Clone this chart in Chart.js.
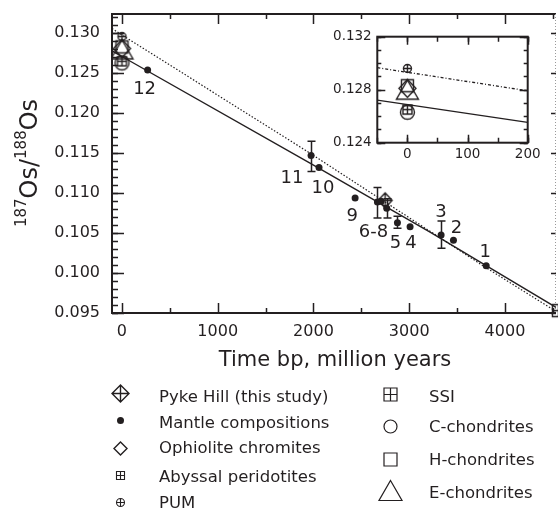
<!DOCTYPE html>
<html>
<head>
<meta charset="utf-8">
<script src="https://cdn.jsdelivr.net/npm/chart.js@4/dist/chart.umd.min.js"></script>
<style>
  body { margin: 0; background: #fff; }
  #wrap { position: relative; width: 558px; height: 510px; overflow: hidden; }
  #main { position: absolute; left: 0; top: 0; }
  #inset { position: absolute; left: 330px; top: 20px; }
</style>
</head>
<body>
<div id="wrap">
  <canvas id="main" width="558" height="510"></canvas>
  <canvas id="inset" width="215" height="145"></canvas>
</div>
<script>
// mantle compositions, numbered as in the figure (Ma, 187Os/188Os)
const mantleLabels = ['1', '2', '3', '4', '5', '6-8', '', '', '9', '10', '11', '12'];
const mantleAge = [3804, 3462, 3333, 3009, 2877, 2668, 2706, 2765, 2435, 2058, 1975, 268];
const mantleOs = [0.1009, 0.1041, 0.10475, 0.1058, 0.1063, 0.1089, 0.1090, 0.1081, 0.1094, 0.1132, 0.1147, 0.1254];
const mantleErrLow = [null, null, 0.1031, null, 0.1056, 0.1069, null, 0.1069, null, null, 0.1127, null];
const mantleErrHigh = [null, null, 0.1065, null, 0.1071, 0.1107, null, 0.1093, null, null, 0.1165, null];
// where each number sits relative to its point (px)
const labelOffsets = [[-1, -15], [3, -14], [0, -25], [1, 15], [-2, 19], [-4, 29], [0, 0], [0, 0], [-3, 17], [4, 19], [-19, 21], [-3, 17]];

// Pyke Hill and SSI
const pykeAge = [2748];
const pykeOs = [0.1091];
const ssiAge = [4558];
const ssiOs = [0.0953];

// present day reservoirs, plotted at t = 0
const pumOs = [0.1296];
const hChondOs = [0.1283];
const ophioliteOs = [0.1281];
const eChondOs = [0.1280];
const abyssalOs = [0.1265];
const cChondOs = [0.1263];

// evolution lines, main panel
const solidAge = [-104, 0, 1964, 3218, 4533];
const solidOs = [0.1278, 0.1271, 0.11375, 0.10512, 0.0957];
const dottedAge = [-104, 0, 1964, 3811, 4533];
const dottedOs = [0.1306, 0.1298, 0.1150, 0.1006, 0.0952];

// evolution lines, inset
const insetSolidAge = [-50, 200];
const insetSolidOs = [0.12722, 0.12554];
const insetDottedAge = [-50, 200];
const insetDottedOs = [0.12966, 0.12792];

// ticks
const ageTicks = [0, 1000, 2000, 3000, 4000];
const osTicks = [0.095, 0.100, 0.105, 0.110, 0.115, 0.120, 0.125, 0.130];
const insetAgeTicks = [0, 100, 200];
const insetOsTicks = [0.124, 0.128, 0.132];

const legendLeft = ['Pyke Hill (this study)', 'Mantle compositions', 'Ophiolite chromites', 'Abyssal peridotites', 'PUM'];
const legendRight = ['SSI', 'C-chondrites', 'H-chondrites', 'E-chondrites'];

const ink = '#231f20';
const FONT = '"DejaVu Sans", sans-serif';

function pts(xs, ys) {
  return xs.map((x, i) => ({ x: x, y: ys[i] }));
}

// little canvases used as point styles (odd sizes so the centre sits on a half pixel)
function marker(kind, w, h, lw) {
  h = h || w;
  lw = lw || 1.4;
  const c = document.createElement('canvas');
  c.width = 2 * Math.ceil((w + 4) / 2) + 1;
  c.height = 2 * Math.ceil((h + 4) / 2) + 1;
  const g = c.getContext('2d');
  g.strokeStyle = ink;
  g.fillStyle = ink;
  g.lineWidth = lw;
  const cx = c.width / 2, cy = c.height / 2, rx = w / 2, ry = h / 2;
  g.beginPath();
  if (kind === 'diamond' || kind === 'diamondCross') {
    g.moveTo(cx, cy - ry); g.lineTo(cx + rx, cy); g.lineTo(cx, cy + ry); g.lineTo(cx - rx, cy); g.closePath();
  }
  if (kind === 'square' || kind === 'squarePlus') g.rect(cx - rx, cy - ry, w, h);
  if (kind === 'circle' || kind === 'circlePlus' || kind === 'dot') g.arc(cx, cy, rx, 0, Math.PI * 2);
  if (kind === 'triangle') {
    g.moveTo(cx, cy - ry); g.lineTo(cx + rx, cy + ry); g.lineTo(cx - rx, cy + ry); g.closePath();
  }
  if (kind === 'dot') { g.fill(); return c; }
  if (kind === 'diamondCross' || kind === 'squarePlus' || kind === 'circlePlus') {
    g.moveTo(cx, cy - ry); g.lineTo(cx, cy + ry);
    g.moveTo(cx - rx, cy); g.lineTo(cx + rx, cy);
  }
  g.stroke();
  return c;
}

const mk = {
  pyke: marker('diamondCross', 14, 15),
  pum: marker('circlePlus', 8),
  hChond: marker('square', 12),
  ophiolite: marker('diamond', 17, 18),
  eChond: marker('triangle', 22, 19),
  abyssal: marker('squarePlus', 9),
  cChond: marker('circle', 14),
  ssi: marker('squarePlus', 12)
};

function range(from, to, step, scale) {
  const out = [];
  for (let k = from; k <= to; k += step) out.push(k / scale);
  return out;
}

function tickMarks(ctx, scale, values, side, len, a) {
  ctx.beginPath();
  values.forEach(v => {
    const p = Math.round(scale.getPixelForValue(v)) + 0.5;
    if (side === 'bottom') { ctx.moveTo(p, a.bottom); ctx.lineTo(p, a.bottom - len); }
    if (side === 'top') { ctx.moveTo(p, a.top); ctx.lineTo(p, a.top + len); }
    if (side === 'left') { ctx.moveTo(a.left, p); ctx.lineTo(a.left + len, p); }
    if (side === 'right') { ctx.moveTo(a.right, p); ctx.lineTo(a.right - len, p); }
  });
  ctx.stroke();
}

// keep the plot box where the layout padding puts it
function fixBox(size, key) {
  return s => {
    s[key] = size;
    s.paddingLeft = 0; s.paddingRight = 0; s.paddingTop = 0; s.paddingBottom = 0;
  };
}

function reservoirSet(ys, img) {
  return { data: pts([0], ys), pointStyle: img, pointRadius: 6, showLine: false };
}

const mainDecor = {
  id: 'mainDecor',
  afterDatasetsDraw(chart) {
    const { ctx, scales } = chart;
    const sx = scales.x, sy = scales.y;
    ctx.save();
    // error bars
    ctx.strokeStyle = ink;
    ctx.lineWidth = 1.5;
    mantleAge.forEach((t, i) => {
      if (mantleErrLow[i] === null) return;
      const px = Math.round(sx.getPixelForValue(t)) + 0.5;
      const y1 = sy.getPixelForValue(mantleErrLow[i]);
      const y2 = sy.getPixelForValue(mantleErrHigh[i]);
      ctx.beginPath();
      ctx.moveTo(px, y1); ctx.lineTo(px, y2);
      ctx.moveTo(px - 4, y1); ctx.lineTo(px + 4, y1);
      ctx.moveTo(px - 4, y2); ctx.lineTo(px + 4, y2);
      ctx.stroke();
    });
    // point numbers
    ctx.fillStyle = ink;
    ctx.font = '18px ' + FONT;
    ctx.textAlign = 'center';
    ctx.textBaseline = 'alphabetic';
    mantleAge.forEach((t, i) => {
      if (!mantleLabels[i]) return;
      const px = sx.getPixelForValue(t) + labelOffsets[i][0];
      const py = sy.getPixelForValue(mantleOs[i]) + labelOffsets[i][1];
      ctx.fillText(mantleLabels[i], px, py + 6.5);
    });
    ctx.restore();
  },
  afterDraw(chart) {
    const { ctx, chartArea: a, scales } = chart;
    const sx = scales.x, sy = scales.y;
    ctx.save();
    ctx.strokeStyle = ink;
    ctx.lineWidth = 1.5;
    tickMarks(ctx, sx, ageTicks, 'bottom', 10, a);
    tickMarks(ctx, sx, ageTicks, 'top', 10, a);
    tickMarks(ctx, sx, range(500, 4500, 1000, 1), 'bottom', 5, a);
    tickMarks(ctx, sx, range(500, 4500, 1000, 1), 'top', 5, a);
    tickMarks(ctx, sy, osTicks, 'left', 12, a);
    tickMarks(ctx, sy, range(95, 132, 1, 1000), 'left', 6, a);
    tickMarks(ctx, sy, osTicks, 'right', 5, a);
    // frame: left, top, bottom solid, right edge faint
    ctx.lineWidth = 2;
    ctx.beginPath();
    ctx.moveTo(a.left, a.top); ctx.lineTo(a.right, a.top);
    ctx.moveTo(a.left, a.top - 1); ctx.lineTo(a.left, a.bottom + 1);
    ctx.moveTo(a.left, a.bottom); ctx.lineTo(a.right, a.bottom);
    ctx.stroke();
    ctx.strokeStyle = '#999';
    ctx.lineWidth = 1;
    ctx.setLineDash([1, 2]);
    ctx.beginPath();
    ctx.moveTo(a.right - 0.5, a.top); ctx.lineTo(a.right - 0.5, a.bottom);
    ctx.stroke();
    ctx.setLineDash([]);

    // axis titles
    ctx.fillStyle = ink;
    ctx.textAlign = 'center';
    ctx.textBaseline = 'alphabetic';
    ctx.font = '21px ' + FONT;
    ctx.fillText('Time bp, million years', 335, 366);

    const parts = [['187', 15, -11], ['Os/', 24, 0], ['188', 15, -11], ['Os', 24, 0]];
    let total = 0;
    parts.forEach(p => { ctx.font = p[1] + 'px ' + FONT; total += ctx.measureText(p[0]).width; });
    ctx.translate(37, 163);
    ctx.rotate(-Math.PI / 2);
    ctx.textAlign = 'left';
    let x = -total / 2;
    parts.forEach(p => {
      ctx.font = p[1] + 'px ' + FONT;
      ctx.fillText(p[0], x, p[2]);
      x += ctx.measureText(p[0]).width;
    });
    ctx.setTransform(1, 0, 0, 1, 0, 0);

    // legend, two columns
    const leftIcons = [
      [marker('diamondCross', 17, 17), 393.3],
      [marker('dot', 7), 420.7],
      [marker('diamond', 13, 13), 448.3],
      [marker('squarePlus', 8, 8, 1.1), 475.7],
      [marker('circlePlus', 8, 8, 1.1), 502.7]
    ];
    const leftBase = [401.7, 427.7, 452.7, 481.7, 508.4];
    const rightIcons = [
      [marker('squarePlus', 13, 13, 1.2), 394],
      [marker('circle', 13, 13, 1.2), 426.7],
      [marker('square', 13, 13, 1.2), 459.3],
      [marker('triangle', 23, 20, 1.2), 490.3]
    ];
    const rightBase = [401.7, 431.7, 465, 497.7];
    ctx.font = '16.5px ' + FONT;
    ctx.textAlign = 'left';
    legendLeft.forEach((name, i) => {
      const img = leftIcons[i][0];
      ctx.drawImage(img, Math.round(120 - img.width / 2), Math.round(leftIcons[i][1] - img.height / 2));
      ctx.fillText(name, 159, leftBase[i]);
    });
    legendRight.forEach((name, i) => {
      const img = rightIcons[i][0];
      ctx.drawImage(img, Math.round(390 - img.width / 2), Math.round(rightIcons[i][1] - img.height / 2));
      ctx.fillText(name, 429, rightBase[i]);
    });
    ctx.restore();
  }
};

new Chart(document.getElementById('main'), {
  type: 'scatter',
  data: {
    datasets: [
      { data: pts(solidAge, solidOs), showLine: true, borderColor: ink, borderWidth: 1.4, pointRadius: 0, tension: 0 },
      { data: pts(dottedAge, dottedOs), showLine: true, borderColor: ink, borderWidth: 1.2, borderDash: [1.5, 1.8], pointRadius: 0, tension: 0 },
      { data: pts(mantleAge, mantleOs), pointStyle: 'circle', pointRadius: 3.5, backgroundColor: ink, borderColor: ink, borderWidth: 0 },
      { data: pts(pykeAge, pykeOs), pointStyle: mk.pyke, pointRadius: 7 },
      reservoirSet(cChondOs, mk.cChond),
      reservoirSet(abyssalOs, mk.abyssal),
      reservoirSet(eChondOs, mk.eChond),
      reservoirSet(ophioliteOs, mk.ophiolite),
      reservoirSet(hChondOs, mk.hChond),
      reservoirSet(pumOs, mk.pum),
      { data: pts(ssiAge, ssiOs), pointStyle: mk.ssi, pointRadius: 6, clip: false }
    ]
  },
  options: {
    responsive: false,
    animation: false,
    layout: { autoPadding: false, padding: { left: 0, top: 14, right: 2, bottom: 157 } },
    plugins: { legend: { display: false }, tooltip: { enabled: false } },
    scales: {
      x: {
        type: 'linear', min: -104, max: 4533,
        grid: { display: false, drawTicks: false }, border: { display: false },
        ticks: { font: { family: FONT, size: 16 }, color: ink, padding: 9, maxRotation: 0, callback: v => String(v) },
        afterBuildTicks: s => { s.ticks = ageTicks.map(v => ({ value: v })); },
        afterFit: fixBox(40, 'height')
      },
      y: {
        type: 'linear', min: 0.095, max: 0.13242,
        grid: { display: false, drawTicks: false }, border: { display: false },
        ticks: { font: { family: FONT, size: 16 }, color: ink, padding: 12, callback: v => v.toFixed(3) },
        afterBuildTicks: s => { s.ticks = osTicks.map(v => ({ value: v })); },
        afterFit: fixBox(112, 'width')
      }
    }
  },
  plugins: [mainDecor]
});

const insetDecor = {
  id: 'insetDecor',
  beforeDatasetsDraw(chart) {
    const { ctx, chartArea: a } = chart;
    ctx.save();
    ctx.fillStyle = '#fff';
    ctx.fillRect(a.left, a.top, a.right - a.left, a.bottom - a.top);
    ctx.restore();
  },
  afterDraw(chart) {
    const { ctx, chartArea: a, scales } = chart;
    ctx.save();
    ctx.strokeStyle = ink;
    ctx.lineWidth = 1.5;
    const xs = range(-50, 200, 50, 1);
    tickMarks(ctx, scales.x, insetAgeTicks, 'bottom', 8, a);
    tickMarks(ctx, scales.x, insetAgeTicks, 'top', 8, a);
    tickMarks(ctx, scales.x, xs, 'bottom', 5, a);
    tickMarks(ctx, scales.x, xs, 'top', 5, a);
    tickMarks(ctx, scales.y, insetOsTicks, 'left', 8, a);
    tickMarks(ctx, scales.y, insetOsTicks, 'right', 8, a);
    tickMarks(ctx, scales.y, range(124, 132, 1, 1000), 'left', 4, a);
    tickMarks(ctx, scales.y, range(124, 132, 1, 1000), 'right', 4, a);
    ctx.lineWidth = 2;
    ctx.strokeRect(a.left, a.top, a.right - a.left, a.bottom - a.top);
    ctx.restore();
  }
};

new Chart(document.getElementById('inset'), {
  type: 'scatter',
  data: {
    datasets: [
      { data: pts(insetSolidAge, insetSolidOs), showLine: true, borderColor: ink, borderWidth: 1.3, pointRadius: 0 },
      { data: pts(insetDottedAge, insetDottedOs), showLine: true, borderColor: ink, borderWidth: 1.3, borderDash: [3, 2, 1, 2], pointRadius: 0 },
      reservoirSet(cChondOs, mk.cChond),
      reservoirSet(abyssalOs, mk.abyssal),
      reservoirSet(eChondOs, mk.eChond),
      reservoirSet(ophioliteOs, mk.ophiolite),
      reservoirSet(hChondOs, mk.hChond),
      reservoirSet(pumOs, mk.pum)
    ]
  },
  options: {
    responsive: false,
    animation: false,
    layout: { autoPadding: false, padding: { left: 0, top: 16.7, right: 17.3, bottom: 2.3 } },
    plugins: { legend: { display: false }, tooltip: { enabled: false } },
    scales: {
      x: {
        type: 'linear', min: -50, max: 200,
        grid: { display: false, drawTicks: false }, border: { display: false },
        ticks: { font: { family: FONT, size: 13.5 }, color: ink, padding: 4, maxRotation: 0, callback: v => String(v) },
        afterBuildTicks: s => { s.ticks = insetAgeTicks.map(v => ({ value: v })); },
        afterFit: fixBox(20, 'height')
      },
      y: {
        type: 'linear', min: 0.124, max: 0.132,
        grid: { display: false, drawTicks: false }, border: { display: false },
        ticks: { font: { family: FONT, size: 13.5 }, color: ink, padding: 5.6, callback: v => v.toFixed(3) },
        afterBuildTicks: s => { s.ticks = insetOsTicks.map(v => ({ value: v })); },
        afterFit: fixBox(47.3, 'width')
      }
    }
  },
  plugins: [insetDecor]
});
</script>
</body>
</html>
